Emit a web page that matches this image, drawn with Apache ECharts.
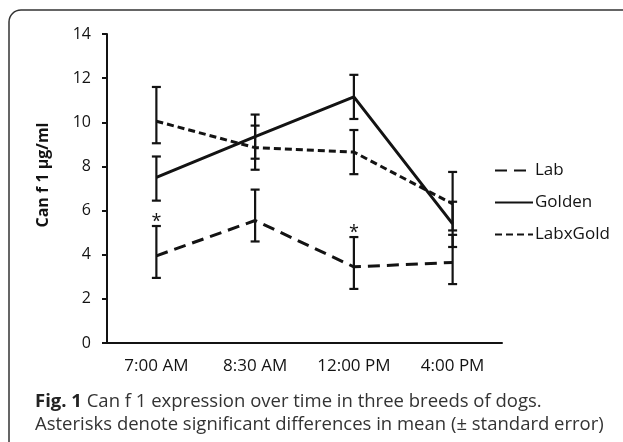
<!DOCTYPE html>
<html>
<head>
<meta charset="utf-8">
<script src="https://cdn.jsdelivr.net/npm/echarts@6/dist/echarts.min.js"></script>
<style>
  html, body { margin: 0; padding: 0; background: #fff; }
  #chart { width: 623px; height: 442px; }
</style>
</head>
<body>
<div id="chart"></div>
<script>
// values
var categories = ['7:00 AM', '8:30 AM', '12:00 PM', '4:00 PM'];

var labMean = [3.95, 5.55, 3.45, 3.65];
var labLow = [2.95, 4.6, 2.45, 2.67];
var labHigh = [5.3, 6.95, 4.8, 4.9];

var goldenMean = [7.5, 9.35, 11.15, 5.4];
var goldenLow = [6.45, 8.35, 10.15, 4.35];
var goldenHigh = [8.45, 10.35, 12.15, 6.4];

var labxGoldMean = [10.05, 8.85, 8.65, 6.3];
var labxGoldLow = [9.05, 7.85, 7.65, 5.1];
var labxGoldHigh = [11.6, 9.85, 9.65, 7.75];

// asterisks over the Lab error bars
var labMarks = ['*', '', '*', ''];

var yTicks = [0, 2, 4, 6, 8, 10, 12, 14];

var INK = '#131313';
var FONT = '"Open Sans", "Noto Sans", sans-serif';

function errorBars(name, low, high, marks) {
  var rows = low.map(function (v, i) { return [i, v, high[i], marks ? marks[i] : '']; });
  return {
    name: name + ' err',
    type: 'custom',
    z: 5,
    silent: true,
    data: rows,
    encode: { x: 0, y: [1, 2] },
    renderItem: function (params, api) {
      var lo = api.coord([api.value(0), api.value(1)]);
      var hi = api.coord([api.value(0), api.value(2)]);
      var cap = 4.5;
      var style = { stroke: INK, lineWidth: 2.2 };
      var kids = [
        { type: 'line', shape: { x1: lo[0], y1: lo[1], x2: hi[0], y2: hi[1] }, style: style },
        { type: 'line', shape: { x1: lo[0] - cap, y1: lo[1], x2: lo[0] + cap, y2: lo[1] }, style: style },
        { type: 'line', shape: { x1: hi[0] - cap, y1: hi[1], x2: hi[0] + cap, y2: hi[1] }, style: style }
      ];
      var mark = rows[params.dataIndex][3];
      if (mark) {
        kids.push({
          type: 'text',
          style: {
            text: mark, x: hi[0], y: hi[1] + 5,
            align: 'center', verticalAlign: 'bottom',
            fill: INK, font: '18px ' + FONT
          }
        });
      }
      return { type: 'group', children: kids };
    }
  };
}

function line(name, data, type, width) {
  return {
    name: name,
    type: 'line',
    data: data,
    symbol: 'none',
    z: 3,
    lineStyle: { color: INK, width: width, type: type },
    itemStyle: { color: INK }
  };
}

var chart = echarts.init(document.getElementById('chart'));

chart.setOption({
  backgroundColor: '#fff',
  animation: false,
  textStyle: { fontFamily: FONT },
  grid: { left: 107, right: 121, top: 34, bottom: 99 },
  legend: {
    orient: 'vertical',
    left: 489,
    top: 157,
    itemWidth: 38,
    itemHeight: 14,
    itemGap: 15,
    data: ['Lab', 'Golden', 'LabxGold'],
    itemStyle: { opacity: 0 },
    textStyle: { fontSize: 17, lineHeight: 17, color: INK, padding: [0, 0, 0, -3] }
  },
  xAxis: {
    type: 'category',
    data: categories,
    boundaryGap: true,
    axisLine: { lineStyle: { color: INK, width: 2 } },
    axisTick: { length: 5, lineStyle: { color: INK, width: 2 } },
    axisLabel: { fontSize: 17, color: INK, margin: 15, interval: 0 },
    splitLine: { show: false }
  },
  yAxis: {
    type: 'value',
    min: yTicks[0],
    max: yTicks[yTicks.length - 1],
    interval: 2,
    axisLine: { show: true, lineStyle: { color: INK, width: 2 } },
    axisTick: { show: true, length: 5, lineStyle: { color: INK, width: 2 } },
    axisLabel: { fontSize: 16, color: INK, margin: 16 },
    splitLine: { show: false }
  },
  series: [
    line('Lab', labMean, [12, 7], 3),
    line('Golden', goldenMean, 'solid', 3),
    line('LabxGold', labxGoldMean, [7, 4], 3),
    errorBars('Lab', labLow, labHigh, labMarks),
    errorBars('Golden', goldenLow, goldenHigh),
    errorBars('LabxGold', labxGoldLow, labxGoldHigh)
  ],
  graphic: [
    {
      type: 'rect',
      silent: true,
      shape: { x: 9, y: 10, width: 800, height: 600, r: [12, 0, 0, 0] },
      style: { fill: 'none', stroke: '#333', lineWidth: 1.5 }
    },
    {
      type: 'text',
      x: 43, y: 175,
      rotation: Math.PI / 2,
      style: {
        text: 'Can f 1 µg/ml',
        align: 'center', verticalAlign: 'middle',
        fill: INK, font: 'bold 16px ' + FONT
      }
    },
    {
      type: 'text',
      x: 35, y: 390,
      style: {
        text: '{b|Fig. 1} Can f 1 expression over time in three breeds of dogs.\nAsterisks denote significant differences in mean (± standard error)',
        fill: '#333',
        font: '18.5px ' + FONT,
        lineHeight: 23,
        rich: { b: { fontWeight: 'bold', fontSize: 18.5, fontFamily: FONT, fill: '#222' } }
      }
    }
  ]
});
</script>
</body>
</html>
